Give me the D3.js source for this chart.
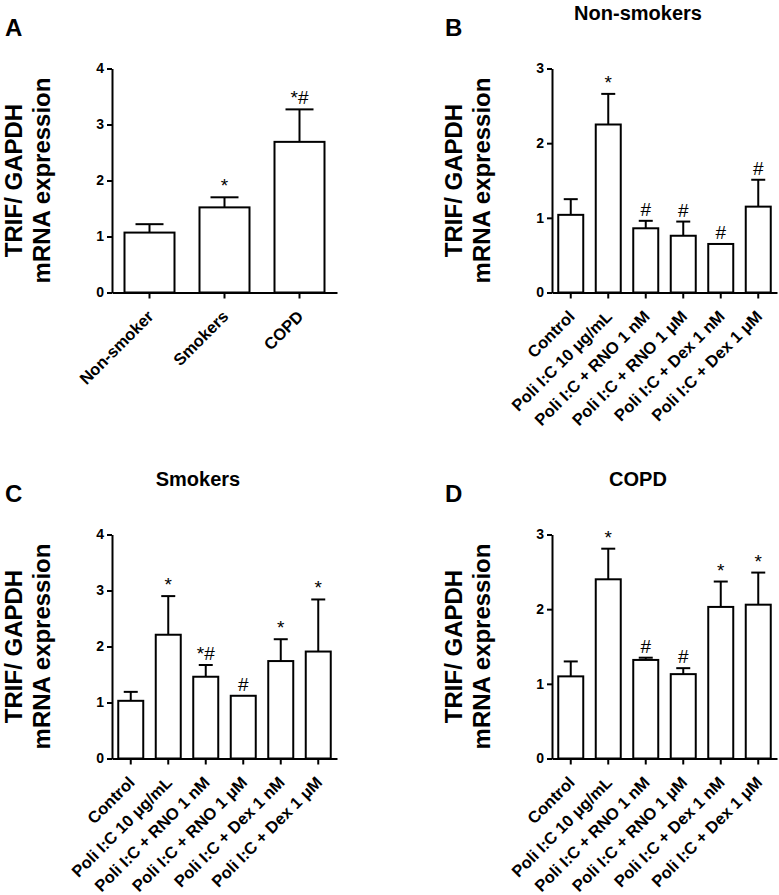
<!DOCTYPE html>
<html>
<head>
<meta charset="utf-8">
<script src="https://cdn.jsdelivr.net/npm/d3@7"></script>
<style>
  html, body { margin: 0; padding: 0; background: #fff; }
  svg { display: block; }
  text { font-family: "Liberation Sans", Arial, Helvetica, sans-serif; fill: #000; }
</style>
</head>
<body>
<svg id="chart" width="779" height="895"></svg>
<script>
// ---------------- data ----------------
const catsA = ["Non-smoker", "Smokers", "COPD"];
const meanA = [1.07, 1.52, 2.69];
const semA  = [0.15, 0.18, 0.58];
const sigA  = ["", "*", "*#"];

const catsTreat = ["Control", "Poli I:C 10 \u03BCg/mL", "Poli I:C + RNO 1 nM",
                   "Poli I:C + RNO 1 \u03BCM", "Poli I:C + Dex 1 nM", "Poli I:C + Dex 1 \u03BCM"];

const meanB = [1.04, 2.25, 0.86, 0.76, 0.65, 1.15];
const semB  = [0.21, 0.41, 0.10, 0.19, 0.00, 0.36];
const sigB  = ["", "*", "#", "#", "#", "#"];

const meanC = [1.03, 2.21, 1.46, 1.12, 1.74, 1.91];
const semC  = [0.16, 0.69, 0.21, 0.00, 0.39, 0.93];
const sigC  = ["", "*", "*#", "#", "*", "*"];

const meanD = [1.10, 2.40, 1.32, 1.13, 2.03, 2.06];
const semD  = [0.20, 0.41, 0.03, 0.08, 0.34, 0.43];
const sigD  = ["", "*", "#", "#", "*", "*"];

const yMaxA = 4, yMaxB = 3, yMaxC = 4, yMaxD = 3;
const titles = { A: "", B: "Non-smokers", C: "Smokers", D: "COPD" };
const yLabelLines = ["TRIF/ GAPDH", "mRNA expression"];

// ---------------- drawing ----------------
const svg = d3.select("#chart");
const FONT = '"Liberation Sans", Arial, sans-serif';

function panel(opts) {
  const { letter, cats, mean, sem, sig, yMax, x0, yTop, title } = opts;
  const W = 225, H = 224;
  const x1 = x0 + W, yBot = yTop + H;
  const g = svg.append("g");

  const x = d3.scaleBand().domain(cats).range([x0, x1])
    .paddingInner(1 / 3).paddingOuter(1 / 6);
  const y = d3.scaleLinear().domain([0, yMax]).range([yBot, yTop]);

  const data = cats.map((c, i) => ({ c, m: mean[i], s: sem[i], sig: sig[i] }));

  // bars
  g.selectAll("rect.bar").data(data).enter().append("rect")
    .attr("class", "bar")
    .attr("x", d => x(d.c))
    .attr("y", d => y(d.m))
    .attr("width", x.bandwidth())
    .attr("height", d => y(0) - y(d.m))
    .attr("fill", "#fff").attr("stroke", "#000").attr("stroke-width", 2);

  // error bars (upper only)
  const capW = x.bandwidth() * 0.56;
  const eb = g.selectAll("g.err").data(data.filter(d => d.s > 0)).enter().append("g");
  eb.append("line")
    .attr("x1", d => x(d.c) + x.bandwidth() / 2)
    .attr("x2", d => x(d.c) + x.bandwidth() / 2)
    .attr("y1", d => y(d.m)).attr("y2", d => y(d.m + d.s))
    .attr("stroke", "#000").attr("stroke-width", 2);
  eb.append("line")
    .attr("x1", d => x(d.c) + x.bandwidth() / 2 - capW / 2)
    .attr("x2", d => x(d.c) + x.bandwidth() / 2 + capW / 2)
    .attr("y1", d => y(d.m + d.s)).attr("y2", d => y(d.m + d.s))
    .attr("stroke", "#000").attr("stroke-width", 2);

  // significance marks
  g.selectAll("text.sig").data(data.filter(d => d.sig)).enter().append("text")
    .attr("class", "sig")
    .attr("x", d => x(d.c) + x.bandwidth() / 2)
    .attr("y", d => y(d.m + d.s) - 5)
    .attr("text-anchor", "middle")
    .style("font-size", "19px")
    .text(d => d.sig);

  // y axis
  const ya = g.append("g").attr("transform", `translate(${x0},0)`)
    .call(d3.axisLeft(y).ticks(yMax).tickFormat(d3.format("d")).tickSizeOuter(0).tickSizeInner(5).tickPadding(3));
  ya.select(".domain").attr("stroke", "#000").attr("stroke-width", 2);
  ya.selectAll(".tick line").attr("stroke", "#000").attr("stroke-width", 2);
  ya.selectAll(".tick text").style("font-size", "14px").style("font-weight", "bold")
    .style("font-family", FONT).attr("fill", "#000");

  // x axis
  const xa = g.append("g").attr("transform", `translate(0,${yBot})`)
    .call(d3.axisBottom(x).tickSizeOuter(0).tickSizeInner(6));
  xa.select(".domain").attr("stroke", "#000").attr("stroke-width", 2);
  xa.selectAll(".tick line").attr("stroke", "#000").attr("stroke-width", 2);
  xa.selectAll(".tick text")
    .style("font-size", "16.5px").style("font-weight", "bold")
    .style("font-family", FONT).attr("fill", "#000")
    .attr("text-anchor", "end")
    .attr("x", 0).attr("y", 0).attr("dy", 0)
    .attr("transform", "translate(5,25) rotate(-45)");

  // y label
  const yc = (yTop + yBot) / 2;
  yLabelLines.forEach((t, i) => {
    g.append("text")
      .attr("transform", `translate(${x0 - 90 + i * 28},${yc}) rotate(-90)`)
      .attr("text-anchor", "middle")
      .style("font-size", "24px").style("font-weight", "bold")
      .text(t);
  });

  // title
  if (title) {
    g.append("text")
      .attr("x", x0 + 86).attr("y", yTop - 49)
      .attr("text-anchor", "middle")
      .style("font-size", "20px").style("font-weight", "bold")
      .text(title);
  }

  // panel letter
  g.append("text")
    .attr("x", x0 - 107).attr("y", yTop - 33)
    .style("font-size", "24px").style("font-weight", "bold")
    .text(letter);
}

panel({ letter: "A", cats: catsA, mean: meanA, sem: semA, sig: sigA, yMax: yMaxA, x0: 112, yTop: 68.5, title: titles.A });
panel({ letter: "B", cats: catsTreat, mean: meanB, sem: semB, sig: sigB, yMax: yMaxB, x0: 552, yTop: 68.5, title: titles.B });
panel({ letter: "C", cats: catsTreat, mean: meanC, sem: semC, sig: sigC, yMax: yMaxC, x0: 112, yTop: 534.5, title: titles.C });
panel({ letter: "D", cats: catsTreat, mean: meanD, sem: semD, sig: sigD, yMax: yMaxD, x0: 552, yTop: 534.5, title: titles.D });
</script>
</body>
</html>
